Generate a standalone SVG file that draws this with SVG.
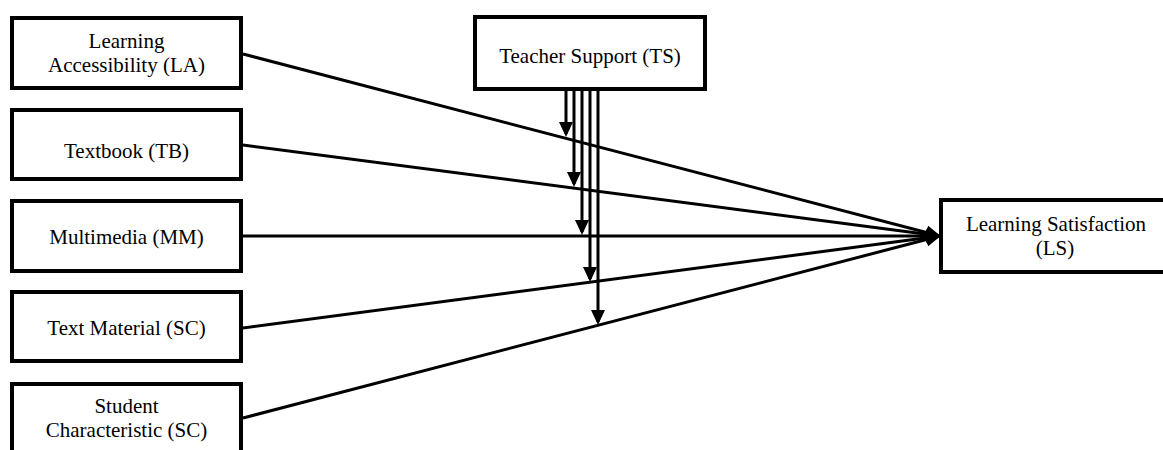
<svg xmlns="http://www.w3.org/2000/svg" width="1163" height="450" viewBox="0 0 1163 450">
<style>
.box{fill:#fff;stroke:#000;stroke-width:4}
.t{font-size:21px;fill:#000;text-anchor:middle}
.c{stroke:#000;stroke-width:3;fill:none;marker-end:url(#ah)}
</style>
<defs>
<marker id="ah" markerUnits="userSpaceOnUse" markerWidth="16" markerHeight="14" refX="12" refY="7" orient="auto" viewBox="0 0 16 14">
<path d="M0,0 L15,7 L0,14 z" fill="#000"/>
</marker>
</defs>
<rect width="1163" height="450" fill="#fff"/>
<g id="connectors">
<line class="c" x1="243" y1="54" x2="938" y2="235.5"/>
<line class="c" x1="243" y1="145" x2="938" y2="235.7"/>
<line class="c" x1="243" y1="236" x2="938" y2="236"/>
<line class="c" x1="243" y1="328" x2="938" y2="236.3"/>
<line class="c" x1="243" y1="418" x2="938" y2="236.5"/>
<line class="c" x1="566" y1="89" x2="566" y2="134"/>
<line class="c" x1="574" y1="89" x2="574" y2="184"/>
<line class="c" x1="582" y1="89" x2="582" y2="232"/>
<line class="c" x1="590" y1="89" x2="590" y2="279"/>
<line class="c" x1="598" y1="89" x2="598" y2="322"/>
</g>
<g font-family="'Liberation Serif', 'Times New Roman', serif">
<g id="LA">
<rect class="box" x="12" y="18" width="229" height="70"/>
<text class="t" x="126.5" y="48">Learning</text>
<text class="t" x="126.5" y="72">Accessibility (LA)</text>
</g>
<g id="TB">
<rect class="box" x="12" y="110" width="229" height="69"/>
<text class="t" x="126.5" y="158">Textbook (TB)</text>
</g>
<g id="MM">
<rect class="box" x="12" y="201" width="229" height="70"/>
<text class="t" x="126.5" y="244">Multimedia (MM)</text>
</g>
<g id="TM">
<rect class="box" x="12" y="292" width="229" height="69"/>
<text class="t" x="126.5" y="335">Text Material (SC)</text>
</g>
<g id="SC">
<rect class="box" x="12" y="384" width="229" height="72"/>
<text class="t" x="126.5" y="413">Student</text>
<text class="t" x="126.5" y="437">Characteristic (SC)</text>
</g>
<g id="TS">
<rect class="box" x="475" y="17" width="230" height="72"/>
<text class="t" x="590" y="63">Teacher Support (TS)</text>
</g>
<g id="LS">
<rect class="box" x="941" y="200" width="230" height="72"/>
<text class="t" x="1056" y="231">Learning Satisfaction</text>
<text class="t" x="1055" y="255">(LS)</text>
</g>
</g>
</svg>
